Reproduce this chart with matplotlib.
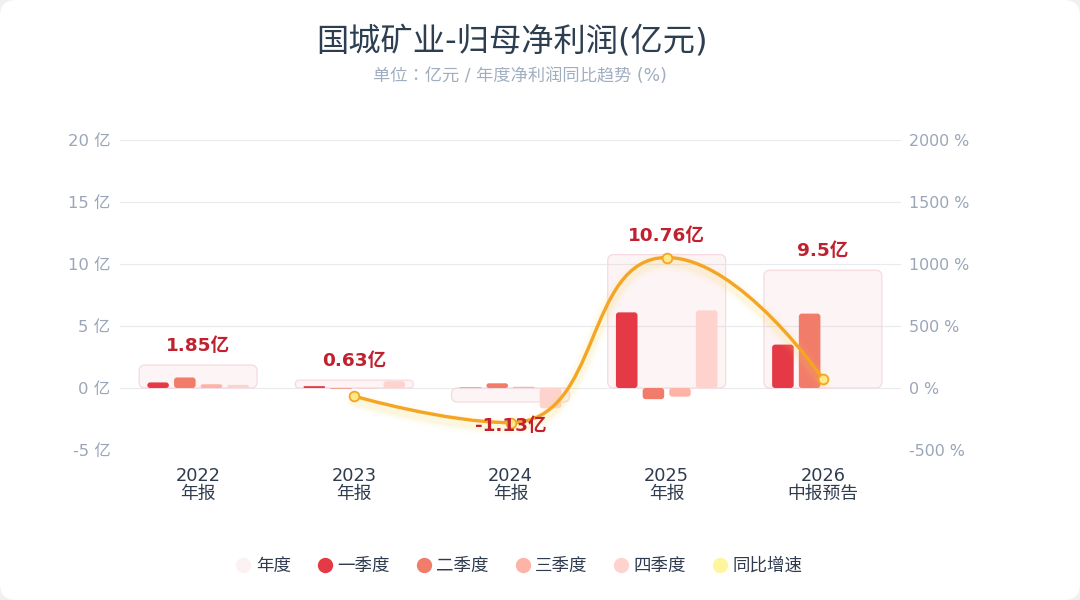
import matplotlib
matplotlib.use("Agg")
import matplotlib.pyplot as plt
import matplotlib.transforms as mtransforms
from matplotlib.patches import FancyBboxPatch, PathPatch
from matplotlib.path import Path
from matplotlib.lines import Line2D
import numpy as np

plt.rcParams['font.family'] = ['DejaVu Sans', 'Noto Sans CJK SC']

# data
years = ['2022\n年报', '2023\n年报', '2024\n年报', '2025\n年报', '2026\n中报预告']
annual = [1.85, 0.63, -1.13, 10.76, 9.5]
annual_labels = ['1.85亿', '0.63亿', '-1.13亿', '10.76亿', '9.5亿']
q1 = [0.45, 0.15, 0.03, 6.10, 3.50]
q2 = [0.85, -0.05, 0.38, -0.90, 6.00]
q3 = [0.30, -0.02, 0.10, -0.70, None]
q4 = [0.25, 0.55, -1.64, 6.26, None]
yoy = [None, -65.9, -279.4, 1052.2, 75.0]

left_ticks = [-5, 0, 5, 10, 15, 20]
right_ticks = [-500, 0, 500, 1000, 1500, 2000]

q_colors = ['#e63946', '#f27c6a', '#fdb3a6', '#fed3cd']
q_names = ['一季度', '二季度', '三季度', '四季度']
box_color = '#e8a0aa'
label_red = '#c0212f'
line_color = '#f5a524'
marker_fill = '#fee98a'
tick_gray = '#9aa5b8'
dark = '#2f3b4e'

fig = plt.figure(figsize=(10.8, 6), dpi=100)
fig.patch.set_facecolor('#eff0f3')
card = FancyBboxPatch((0, 0), 1, 1, boxstyle="round,pad=0,rounding_size=%f" % (16 / 1080),
                      mutation_aspect=1080 / 600, transform=fig.transFigure,
                      facecolor='white', edgecolor='none', zorder=-10)
fig.add_artist(card)

ax = fig.add_axes([120 / 1080, 150 / 600, 781 / 1080, 310 / 600])
ax.set_xlim(-0.5, 4.5)
ax.set_ylim(-5, 20)
ax2 = ax.twinx()
ax2.set_ylim(-500, 2000)

for a in (ax, ax2):
    for s in a.spines.values():
        s.set_visible(False)
    a.tick_params(length=0)

ax.set_yticks(left_ticks)
ax.set_yticklabels(['%d 亿' % v for v in left_ticks], fontsize=11.8, color=tick_gray)
ax.tick_params(axis='y', pad=7)
ax2.set_yticks(right_ticks)
ax2.set_yticklabels(['%d %%' % v for v in right_ticks], fontsize=11.4, color=tick_gray)
ax2.tick_params(axis='y', pad=6)
ax.set_xticks(range(len(years)))
ax.set_xticklabels(years, fontsize=12.8, color=dark, linespacing=0.95)
ax.tick_params(axis='x', pad=12.5)
ax.grid(axis='y', color='#e8eaee', lw=0.8, zorder=0)
ax.set_axisbelow(True)

fig.canvas.draw()
p0 = ax.transData.transform((0, 0))
p1 = ax.transData.transform((1, 1))
sx, sy = p1[0] - p0[0], p1[1] - p0[1]


def rounded_bar(x, value, width, r_px, **kw):
    bottom = min(0, value)
    h = abs(value)
    r_px = min(r_px, h * sy / 2, width * sx / 2)
    patch = FancyBboxPatch((x - width / 2, bottom), width, h,
                           boxstyle="round,pad=0,rounding_size=%f" % (r_px / sx),
                           mutation_aspect=sx / sy, **kw)
    ax.add_patch(patch)


# annual background boxes
for i, v in enumerate(annual):
    rounded_bar(i, v, 0.755, 6, facecolor=box_color, alpha=0.11, edgecolor='none', zorder=1)
    rounded_bar(i, v, 0.755, 6, facecolor='none', edgecolor='#f6dadf', lw=0.9, zorder=1)

offsets = [-0.256, -0.085, 0.085, 0.256]
for qi, series in enumerate([q1, q2, q3, q4]):
    for i, v in enumerate(series):
        if v is None:
            continue
        rounded_bar(i + offsets[qi], v, 0.138, 3, facecolor=q_colors[qi], edgecolor='none', zorder=2)

# yoy smooth line (echarts-like smoothing in pixel space)
idx = [i for i, v in enumerate(yoy) if v is not None]
pts = ax2.transData.transform(np.array([[i, yoy[i]] for i in idx]))
smooth = 0.5
verts = [pts[0]]
codes = [Path.MOVETO]
cp0 = pts[0]
for k in range(1, len(pts)):
    x, y = pts[k]
    px, py = pts[k - 1]
    if k == len(pts) - 1:
        cp1 = np.array([x, y])
        ncp0 = None
    else:
        nx, ny = pts[k + 1]
        vx, vy = nx - px, ny - py
        lp = np.hypot(x - px, y - py)
        ln = np.hypot(nx - x, ny - y)
        r = ln / (ln + lp)
        ncx = x + vx * smooth * r
        ncy = y + vy * smooth * r
        ncx = max(min(ncx, max(nx, x)), min(nx, x))
        ncy = max(min(ncy, max(ny, y)), min(ny, y))
        vx, vy = ncx - x, ncy - y
        c1x = x - vx * lp / ln
        c1y = y - vy * lp / ln
        c1x = max(min(c1x, max(px, x)), min(px, x))
        c1y = max(min(c1y, max(py, y)), min(py, y))
        vx, vy = x - c1x, y - c1y
        ncp0 = np.array([x + vx * ln / lp, y + vy * ln / lp])
        cp1 = np.array([c1x, c1y])
    verts += [cp0, cp1, pts[k]]
    codes += [Path.CURVE4] * 3
    cp0 = ncp0
curve = Path(ax2.transData.inverted().transform(np.array(verts)), codes)

glow_tr = ax2.transData + mtransforms.ScaledTranslation(0, -3 / 72, fig.dpi_scale_trans)
for lw, al in [(13, 0.04), (9, 0.06), (6, 0.09)]:
    ax2.add_patch(PathPatch(curve, facecolor='none', edgecolor='#fcd34d', lw=lw, alpha=al,
                            transform=glow_tr, capstyle='round', zorder=3))
ax2.add_patch(PathPatch(curve, facecolor='none', edgecolor=line_color, lw=2.4,
                        capstyle='round', zorder=4))
ax2.plot(idx, [yoy[i] for i in idx], ls='none', marker='o', markersize=7,
         markerfacecolor=marker_fill, markeredgecolor=line_color, markeredgewidth=1.3, zorder=5)

# annual value labels
for i, v in enumerate(annual):
    if v >= 0:
        ax2.annotate(annual_labels[i], (i, v), xycoords=ax.transData, xytext=(0, 10),
                     textcoords='offset pixels', ha='center', va='bottom', fontsize=13.3,
                     fontweight='bold', color=label_red, zorder=10)
    else:
        ax2.annotate(annual_labels[i], (i, v), xycoords=ax.transData, xytext=(0, -15),
                     textcoords='offset pixels', ha='center', va='top', fontsize=13.3,
                     fontweight='bold', color=label_red, zorder=10)

fig.text(0.474, 1 - 42 / 600, '国城矿业-归母净利润(亿元)', ha='center', va='center',
         fontsize=23.2, color='#2d3e50')
fig.text(0.481, 1 - 76 / 600, '单位：亿元 / 年度净利润同比趋势 (%)', ha='center', va='center',
         fontsize=12.4, color='#a0aec0', family=['DejaVu Sans', 'Noto Sans CJK JP'])

handles = [Line2D([], [], ls='none', marker='o', markersize=10, markerfacecolor='#fcf1f3',
                  markeredgecolor='#fcf1f3', label='年度')]
for c, n in zip(q_colors, q_names):
    handles.append(Line2D([], [], ls='none', marker='o', markersize=10, markerfacecolor=c,
                          markeredgecolor=c, label=n))
handles.append(Line2D([], [], ls='none', marker='o', markersize=10, markerfacecolor='#fff59d',
                      markeredgecolor='#fff59d', label='同比增速'))
leg = fig.legend(handles=handles, loc='center', bbox_to_anchor=(0.481, 1 - 566 / 600), ncol=6,
                 frameon=False, fontsize=12.6, handlelength=0.8, handletextpad=0.3,
                 columnspacing=1.55)
for t in leg.get_texts():
    t.set_color(dark)

fig.savefig('out.png', dpi=100, facecolor=fig.get_facecolor())
